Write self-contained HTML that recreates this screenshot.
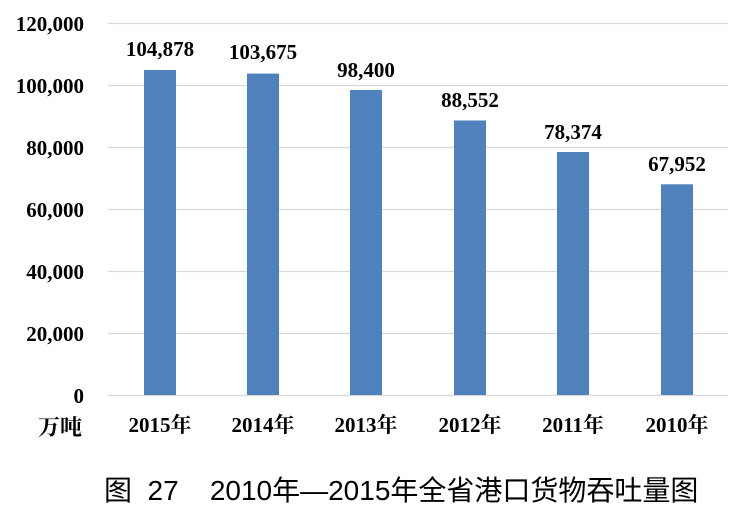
<!DOCTYPE html>
<html><head><meta charset="utf-8"><style>
body{margin:0;background:#fff;}
svg text{font-family:"Liberation Serif","Noto Serif CJK SC",serif;font-weight:bold;fill:#000;}
</style></head><body>
<svg width="756" height="513" xmlns="http://www.w3.org/2000/svg">
<g stroke="#d9d9d9" stroke-width="1.3">
<line x1="108" x2="728" y1="23.5" y2="23.5"/>
<line x1="108" x2="728" y1="85.5" y2="85.5"/>
<line x1="108" x2="728" y1="147.5" y2="147.5"/>
<line x1="108" x2="728" y1="209.5" y2="209.5"/>
<line x1="108" x2="728" y1="271.5" y2="271.5"/>
<line x1="108" x2="728" y1="333.5" y2="333.5"/>
<line x1="108" x2="728" y1="395.5" y2="395.5"/>
</g>
<g font-size="21" text-anchor="end">
<text x="84" y="31">120,000</text>
<text x="84" y="93">100,000</text>
<text x="84" y="155">80,000</text>
<text x="84" y="217">60,000</text>
<text x="84" y="279">40,000</text>
<text x="84" y="341">20,000</text>
<text x="84" y="403">0</text>
</g>
<text x="82" y="435" font-size="22" text-anchor="end" font-family="'Noto Sans CJK SC',sans-serif">万吨</text>
<g fill="#4f81bd">
<rect x="144" y="70" width="32" height="325"/>
<rect x="247" y="73.6" width="32" height="321.4"/>
<rect x="350" y="90" width="32" height="305"/>
<rect x="454" y="120.5" width="32" height="274.5"/>
<rect x="557" y="152" width="32" height="243"/>
<rect x="661" y="184.3" width="32" height="210.7"/>
</g>
<g font-size="21" text-anchor="middle">
<text x="160" y="56">104,878</text>
<text x="263" y="59">103,675</text>
<text x="366" y="77">98,400</text>
<text x="470" y="107">88,552</text>
<text x="573" y="139">78,374</text>
<text x="677" y="171">67,952</text>
</g>
<g font-size="21" text-anchor="middle">
<text x="160" y="432">2015年</text>
<text x="263" y="432">2014年</text>
<text x="366" y="432">2013年</text>
<text x="470" y="432">2012年</text>
<text x="573" y="432">2011年</text>
<text x="677" y="432">2010年</text>
</g>
<text x="104" y="500" font-size="28" style="font-weight:normal;font-family:'Liberation Sans','Noto Sans CJK SC',sans-serif" xml:space="preserve">图  27    2010年—2015年全省港口货物吞吐量图</text>
</svg>
</body></html>
